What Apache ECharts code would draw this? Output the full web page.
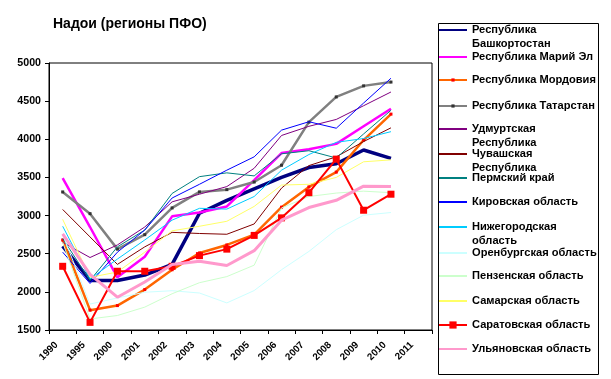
<!DOCTYPE html>
<html>
<head>
<meta charset="utf-8">
<script src="https://cdn.jsdelivr.net/npm/echarts@6/dist/echarts.min.js"></script>
<style>
html,body{margin:0;padding:0;background:#fff;}
#chart{width:611px;height:379px;}
</style>
</head>
<body>
<div id="chart"></div>
<script>
// ---- data ----
const categories = ['1990','1995','2000','2001','2002','2003','2004','2005','2006','2007','2008','2009','2010','2011'];
const yTicks = [1500, 2000, 2500, 3000, 3500, 4000, 4500, 5000];

const seriesNames = [
  'Республика Башкортостан','Республика Марий Эл','Республика Мордовия','Республика Татарстан',
  'Удмуртская Республика','Чувашская Республика','Пермский край','Кировская область',
  'Нижегородская область','Оренбургская область','Пензенская область','Самарская область',
  'Саратовская область','Ульяновская область'
];
const legendLabels = [
  ['Республика','Башкортостан'],['Республика Марий Эл'],['Республика Мордовия'],['Республика Татарстан'],
  ['Удмуртская','Республика'],['Чувашская','Республика'],['Пермский край'],['Кировская область'],
  ['Нижегородская','область'],['Оренбургская область'],['Пензенская область'],['Самарская область'],
  ['Саратовская область'],['Ульяновская область']
];

const bashkortostan = [2600, 2150, 2150, 2220, 2360, 3030, 3200, 3350, 3500, 3630, 3680, 3860, 3750];
const mariyEl       = [3490, 2850, 2190, 2460, 2990, 3040, 3120, 3465, 3820, 3870, 3940, 4170, 4400];
const mordovia      = [2680, 1760, 1820, 2030, 2290, 2510, 2615, 2750, 3110, 3375, 3570, 3990, 4330];
const tatarstan     = [3310, 3025, 2560, 2750, 3100, 3310, 3340, 3440, 3660, 4225, 4555, 4700, 4750];
const udmurtia      = [2650, 2450, 2615, 2850, 3180, 3280, 3380, 3620, 4050, 4170, 4260, 4440, 4620];
const chuvashia     = [3080, 2720, 2360, 2590, 2780, 2765, 2755, 2890, 3360, 3655, 3770, 3970, 4150];
const perm          = [2700, 2150, 2590, 2810, 3290, 3510, 3560, 3520, 3810, 3850, 3755, 4070, 4380];
const kirov         = [2520, 2110, 2520, 2810, 3230, 3410, 3595, 3770, 4120, 4230, 4145, 4475, 4800];
const nizhny        = [2860, 2170, 2430, 2680, 2940, 3095, 3085, 3250, 3595, 3800, 3960, 4010, 4100];
const orenburg      = [2750, 1840, 1920, 1995, 2015, 1985, 1855, 2017, 2290, 2530, 2815, 3005, 3040];
const penza         = [2650, 1645, 1690, 1800, 1975, 2120, 2200, 2350, 3100, 3250, 3295, 3320, 3300];
const samara        = [2950, 2190, 2260, 2520, 2800, 2860, 2925, 3120, 3400, 3410, 3500, 3705, 3730];
const saratov       = [2335, 1600, 2270, 2270, 2335, 2475, 2560, 2740, 2970, 3300, 3740, 3070, 3280];
const ulyanovsk     = [2760, 2230, 1930, 2130, 2360, 2400, 2345, 2540, 2940, 3105, 3200, 3385, 3380];

const seriesValues = [bashkortostan, mariyEl, mordovia, tatarstan, udmurtia, chuvashia, perm,
  kirov, nizhny, orenburg, penza, samara, saratov, ulyanovsk];

// ---- styles ----
const FONT = '"Liberation Sans", Arial, sans-serif';
const styles = [
  {color:'#000080', width:3.5},
  {color:'#FF00FF', width:2.5},
  {color:'#FF6600', width:2.5, symbol:'rect', symbolSize:3, symbolColor:'#FF0000', legendH:4},
  {color:'#808080', width:2.5, symbol:'rect', symbolSize:3, symbolColor:'#333333', legendH:4},
  {color:'#800080', width:1},
  {color:'#800000', width:1},
  {color:'#008080', width:1},
  {color:'#0000FF', width:1},
  {color:'#00CCFF', width:1},
  {color:'#CCFFFF', width:1},
  {color:'#CCFFCC', width:1},
  {color:'#FFFF66', width:1},
  {color:'#FF0000', width:2, symbol:'rect', symbolSize:7, symbolColor:'#FF0000', legendH:9},
  {color:'#FF99CC', width:3}
];
const legendCenters = [30, 57, 80, 106, 129, 154, 178, 202, 227, 253, 276, 301, 325, 349];
const LH = 13.5;

const series = seriesNames.map((name, i) => {
  const st = styles[i];
  return {
    name: name,
    type: 'line',
    data: seriesValues[i],
    symbol: st.symbol || 'none',
    symbolSize: st.symbolSize || 0,
    showSymbol: !!st.symbol,
    lineStyle: {color: st.color, width: st.width},
    itemStyle: {color: st.symbolColor || st.color},
    emphasis: {disabled: true},
    z: 2 + i * 0.01
  };
});

const legends = seriesNames.map((name, i) => {
  const st = styles[i];
  const lines = legendLabels[i];
  const display = lines.length > 1 ? [' '].concat(lines) : lines;
  const h = display.length * LH;
  const lg = {
    data: [name],
    orient: 'vertical',
    left: 438,
    top: legendCenters[i] - h / 2,
    padding: 0,
    itemWidth: 28,
    itemHeight: st.legendH || 8,
    selectedMode: false,
    formatter: () => display.join('\n'),
    textStyle: {fontFamily: FONT, fontSize: 11.1, fontWeight: 'bold', color: '#000', lineHeight: LH}
  };
  if (!st.symbol) lg.itemStyle = {opacity: 0};
  return lg;
});

const chart = echarts.init(document.getElementById('chart'), null, {renderer: 'canvas'});
chart.setOption({
  animation: false,
  backgroundColor: '#fff',
  title: {
    text: 'Надои (регионы ПФО)',
    left: 53,
    top: 17,
    padding: 0,
    textStyle: {fontFamily: FONT, fontSize: 14, fontWeight: 'bold', color: '#000'}
  },
  grid: {left: 49, right: 179, top: 63, bottom: 49, show: true, borderColor: '#000', borderWidth: 1, backgroundColor: 'transparent'},
  legend: legends,
  xAxis: {
    type: 'category',
    data: categories,
    boundaryGap: true,
    axisLine: {lineStyle: {color: '#000', width: 1}},
    axisTick: {show: true, length: 4, lineStyle: {color: '#000'}},
    axisLabel: {interval: 0, rotate: 45, margin: 7, padding: [0, 9, 0, 0], fontFamily: FONT, fontSize: 9.8, fontWeight: 'bold', color: '#000'},
    splitLine: {show: false}
  },
  yAxis: {
    type: 'value',
    min: yTicks[0],
    max: yTicks[yTicks.length - 1],
    interval: 500,
    axisLine: {show: true, lineStyle: {color: '#000', width: 1}},
    axisTick: {show: true, length: 4, lineStyle: {color: '#000'}},
    axisLabel: {margin: 8, formatter: v => String(v), fontFamily: FONT, fontSize: 10.67, fontWeight: 'bold', color: '#000'},
    splitLine: {show: false}
  },
  graphic: [{
    type: 'rect',
    shape: {x: 438.5, y: 23.5, width: 160, height: 351},
    style: {fill: 'none', stroke: '#000', lineWidth: 1},
    silent: true,
    z: 0
  }],
  series: series
});
</script>
</body>
</html>
